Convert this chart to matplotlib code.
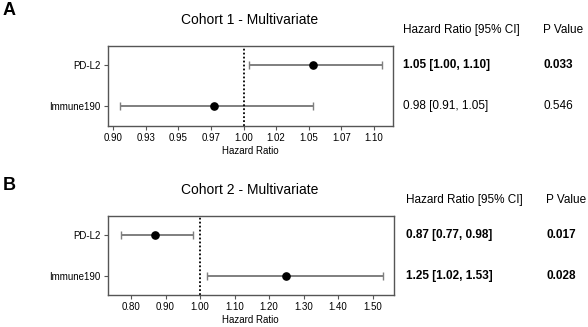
import matplotlib
matplotlib.use("Agg")
import matplotlib.pyplot as plt

plt.rcParams["font.family"] = ["Liberation Sans", "DejaVu Sans"]

variables = ["PD-L2", "Immune190"]

# cohort 1
c1_hr = [1.053, 0.977]
c1_lo = [1.004, 0.905]
c1_hi = [1.106, 1.053]
c1_text = ["1.05 [1.00, 1.10]", "0.98 [0.91, 1.05]"]
c1_p = ["0.033", "0.546"]
c1_bold = [True, False]
c1_ticks = [0.9, 0.925, 0.95, 0.975, 1.0, 1.025, 1.05, 1.075, 1.1]
c1_ticklabels = ["0.90", "0.93", "0.95", "0.97", "1.00", "1.02", "1.05", "1.07", "1.10"]

# cohort 2
c2_hr = [0.87, 1.25]
c2_lo = [0.77, 1.02]
c2_hi = [0.98, 1.53]
c2_text = ["0.87 [0.77, 0.98]", "1.25 [1.02, 1.53]"]
c2_p = ["0.017", "0.028"]
c2_bold = [True, True]
c2_ticks = [0.8, 0.9, 1.0, 1.1, 1.2, 1.3, 1.4, 1.5]
c2_ticklabels = ["0.80", "0.90", "1.00", "1.10", "1.20", "1.30", "1.40", "1.50"]


def forest(fig, rect, title, letter, letter_y, hr, lo, hi, text, pvals, bold, ticks, ticklabels,
           xlim, table_x, p_x):
    ax = fig.add_axes(rect)
    y = list(range(len(variables)))
    xerr = [[h - l for h, l in zip(hr, lo)], [u - h for h, u in zip(hr, hi)]]
    ax.errorbar(hr, y, xerr=xerr, fmt="none", ecolor="#7f7f7f", elinewidth=1.4,
                capsize=2.8, capthick=1.0)
    ax.plot(hr, y, "o", color="black", markersize=5.2)
    ax.axvline(1.0, color="black", linestyle=(0, (1, 1.2)), linewidth=1.3)
    ax.set_xlim(*xlim)
    ax.set_ylim(1.48, -0.48)
    ax.set_yticks(y)
    ax.set_yticklabels(variables, fontsize=7)
    ax.set_xticks(ticks)
    ax.set_xticklabels(ticklabels, fontsize=7)
    ax.tick_params(length=3, width=0.8, color="#555555", pad=2)
    for s in ax.spines.values():
        s.set_color("#555555")
        s.set_linewidth(1.0)
    ax.set_xlabel("Hazard Ratio", fontsize=7, labelpad=2)

    top = rect[1] + rect[3]
    fig.text(0.425, top + 0.08, title, fontsize=10, ha="center", va="center")
    fig.text(0.005, letter_y, letter, fontsize=13, fontweight="bold", va="center")

    fig.text(table_x, top + 0.049, "Hazard Ratio [95% CI]", fontsize=8.5, va="center")
    fig.text(p_x, top + 0.049, "P Value", fontsize=8.5, va="center")
    for i in range(len(variables)):
        yy = ax.transData.transform((0, y[i]))[1] / fig.bbox.height
        w = "bold" if bold[i] else "normal"
        fig.text(table_x, yy, text[i], fontsize=8.5, fontweight=w, va="center")
        fig.text(p_x, yy, pvals[i], fontsize=8.5, fontweight=w, va="center")
    return ax


fig = plt.figure(figsize=(5.88, 3.27), dpi=100)

forest(fig, [0.1829, 0.6147, 0.4860, 0.2456], "Cohort 1 - Multivariate", "A", 0.968,
       c1_hr, c1_lo, c1_hi, c1_text, c1_p, c1_bold, c1_ticks, c1_ticklabels,
       (0.8955, 1.115), 0.685, 0.924)
forest(fig, [0.1829, 0.0979, 0.4872, 0.2425], "Cohort 2 - Multivariate", "B", 0.434,
       c2_hr, c2_lo, c2_hi, c2_text, c2_p, c2_bold, c2_ticks, c2_ticklabels,
       (0.732, 1.562), 0.690, 0.929)

fig.savefig("out.png", dpi=100)
